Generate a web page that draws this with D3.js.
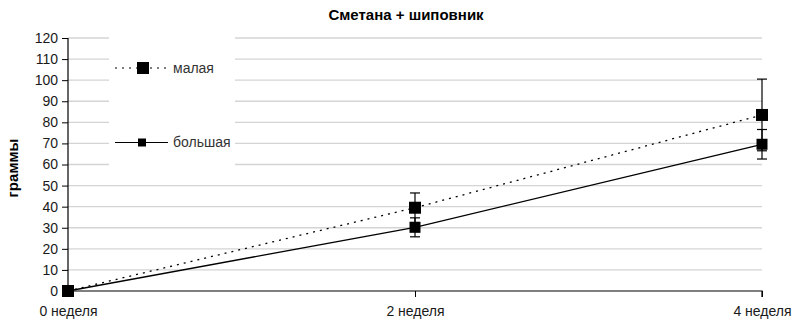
<!DOCTYPE html>
<html><head><meta charset="utf-8">
<script src="https://cdn.jsdelivr.net/npm/d3@7"></script>
<style>body{margin:0;background:#fff}svg{display:block}text{font-family:"Liberation Sans",Arial,sans-serif}</style>
</head><body><svg id="c" width="795" height="326"></svg>
<script>
const categories = ["0 неделя", "2 неделя", "4 неделя"];
const smallVals = [0, 39.5, 83.5];
const smallErr = [0, 7, 17];
const bigVals = [0, 30.2, 69.6];
const bigErr = [0, 4.5, 7];
const yTicks = d3.range(0, 121, 10);
const seriesNames = ["малая", "большая"];

const svg = d3.select("#c");
const x = d3.scalePoint().domain(categories).range([68, 762]).padding(0);
const y = d3.scaleLinear().domain([0, 120]).range([291, 38]);

// gridlines
svg.append("g").selectAll("line").data(yTicks.filter(d => d > 0)).join("line")
  .attr("x1", 68).attr("x2", 762).attr("y1", d => y(d)).attr("y2", d => y(d))
  .attr("stroke", "#d4d4d4").attr("stroke-width", 1.3);

// legend box (covers gridlines)
svg.append("rect").attr("x", 109).attr("y", 33).attr("width", 126).attr("height", 136).attr("fill", "#fff");

// axes
const yAxis = d3.axisLeft(y).tickValues(yTicks).tickSize(6).tickPadding(4);
const gy = svg.append("g").attr("transform", "translate(68,0)").call(yAxis);
gy.select(".domain").attr("stroke", "#000").attr("stroke-width", 1.2).attr("d", `M0,${y(120)}V${y(0)}`);
gy.selectAll(".tick line").attr("stroke", "#000");
gy.selectAll("text").attr("font-size", 14).attr("fill", "#1a1a1a").attr("font-family", "Liberation Sans, Arial, sans-serif");

const xAxis = d3.axisBottom(x).tickSize(6).tickPadding(9);
const gx = svg.append("g").attr("transform", `translate(0,${y(0)})`).call(xAxis);
gx.select(".domain").attr("stroke", "#000").attr("stroke-width", 1.2).attr("d", `M68,0H762V6`);
gx.selectAll(".tick line").attr("stroke", "#000");
gx.selectAll(".tick").filter((d, i) => i === 0).select("line").remove();
gx.selectAll("text").attr("font-size", 14).attr("fill", "#1a1a1a").attr("font-family", "Liberation Sans, Arial, sans-serif");

// lines
const line = d3.line().x((d, i) => x(categories[i])).y(d => y(d));
svg.append("path").datum(smallVals).attr("d", line).attr("fill", "none")
  .attr("stroke", "#000").attr("stroke-width", 1.3).attr("stroke-dasharray", "2,5");
svg.append("path").datum(bigVals).attr("d", line).attr("fill", "none")
  .attr("stroke", "#000").attr("stroke-width", 1.3);

// error bars
function errBars(vals, errs) {
  const g = svg.append("g").attr("stroke", "#000").attr("stroke-width", 1.2);
  vals.forEach((v, i) => {
    if (!errs[i]) return;
    const cx = x(categories[i]);
    g.append("line").attr("x1", cx).attr("x2", cx).attr("y1", y(v - errs[i])).attr("y2", y(v + errs[i]));
    [v - errs[i], v + errs[i]].forEach(e => g.append("line").attr("x1", cx - 5).attr("x2", cx + 5).attr("y1", y(e)).attr("y2", y(e)));
  });
}
errBars(smallVals, smallErr);
errBars(bigVals, bigErr);

// markers
function markers(vals, s) {
  svg.append("g").selectAll("rect").data(vals).join("rect")
    .attr("x", (d, i) => x(categories[i]) - s / 2).attr("y", d => y(d) - s / 2)
    .attr("width", s).attr("height", s).attr("fill", "#000");
}
markers(bigVals, 11);
markers(smallVals, 12);

// legend
const leg = svg.append("g");
leg.append("line").attr("x1", 115).attr("x2", 168).attr("y1", 68).attr("y2", 68)
  .attr("stroke", "#000").attr("stroke-width", 1.2).attr("stroke-dasharray", "2,5");
leg.append("rect").attr("x", 137).attr("y", 62).attr("width", 12).attr("height", 12).attr("fill", "#000");
leg.append("text").attr("x", 173).attr("y", 73).attr("font-size", 14).attr("fill", "#333").text(seriesNames[0]);
leg.append("line").attr("x1", 115).attr("x2", 168).attr("y1", 142.5).attr("y2", 142.5)
  .attr("stroke", "#000").attr("stroke-width", 1.2);
leg.append("rect").attr("x", 138).attr("y", 138.5).attr("width", 8).attr("height", 8).attr("fill", "#000");
leg.append("text").attr("x", 173).attr("y", 147).attr("font-size", 14).attr("fill", "#333").text(seriesNames[1]);

// title and axis label
svg.append("text").attr("x", 406).attr("y", 20).attr("text-anchor", "middle")
  .attr("font-size", 15).attr("font-weight", "bold").text("Сметана + шиповник");
svg.append("text").attr("transform", "translate(18,168) rotate(-90)").attr("text-anchor", "middle")
  .attr("font-size", 15).attr("font-weight", "bold").text("граммы");
</script></body></html>
